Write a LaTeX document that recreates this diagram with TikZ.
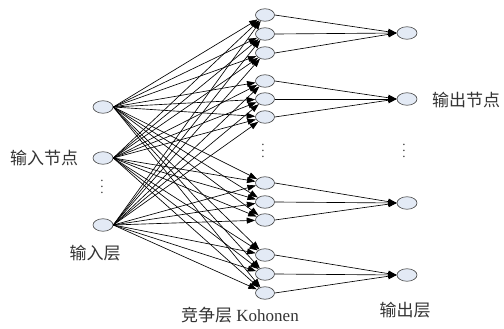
\documentclass[tikz,border=0pt]{standalone}
\usepackage{fontspec}
\setmainfont{Liberation Serif}
\newfontfamily\cjk{Noto Sans CJK SC}
\usetikzlibrary{arrows.meta,shapes.geometric}
\definecolor{nodefill}{HTML}{E3EAF5}
\begin{document}
\begin{tikzpicture}[x=1pt,y=-1pt,
  neuron/.style={draw=black!75, fill=nodefill, ellipse, minimum width=20pt, minimum height=12.5pt, inner sep=0pt, line width=0.6pt},
  conn/.style={-{Triangle[length=8.5pt,width=6pt]}, line width=0.65pt, black},
  lbl/.style={font=\cjk\fontsize{17}{20}\selectfont, inner sep=0pt, text=black!80},
  dotnode/.style={inner sep=0pt, font=\fontsize{13}{13}\selectfont, text=black!80, text height=1.6pt, text depth=0pt}
]
\useasboundingbox (0,0) rectangle (504,329);
% input layer
\node[neuron] (i1) at (103,107) {};
\node[neuron] (i2) at (103,158) {};
\node[neuron] (i3) at (103,225) {};
% competitive layer
\foreach \j/\y in {1/15,2/34,3/53,4/81,5/99,6/117,7/183,8/202,9/220,10/255,11/274,12/293}
  \node[neuron, minimum width=19pt] (c\j) at (265,\y) {};
% output layer
\foreach \k/\y in {1/33,2/99,3/203,4/275}
  \node[neuron] (o\k) at (407,\y) {};
% connections input -> competitive
\foreach \i in {1,2,3}
  \foreach \j in {1,...,12}
    \draw[conn] (i\i.east) -- (c\j);
% connections competitive -> output
\foreach \j in {1,...,12}{
  \pgfmathtruncatemacro{\k}{int((\j-1)/3)+1}
  \draw[conn] (c\j.east) -- (o\k.west);
}
% vertical ellipses (three dots each)
\foreach \x/\y/\n in {102/181/a,263/145/b,404/145/c}{
  \node[dotnode] (\n1) at (\x,\y) {.};
  \node[dotnode] (\n2) at (\x,\y+6) {.};
  \node[dotnode] (\n3) at (\x,\y+12) {.};
}
% labels
\node[lbl] (l1) at (44,158) {输入节点};
\node[lbl] (l2) at (95,253) {输入层};
\node[lbl, font=\fontsize{17}{20}\selectfont] (l3) at (240,315) {{\cjk 竞争层} Kohonen};
\node[lbl] (l4) at (405,310) {输出层};
\node[lbl] (l5) at (466,100) {输出节点};
\end{tikzpicture}
\end{document}
